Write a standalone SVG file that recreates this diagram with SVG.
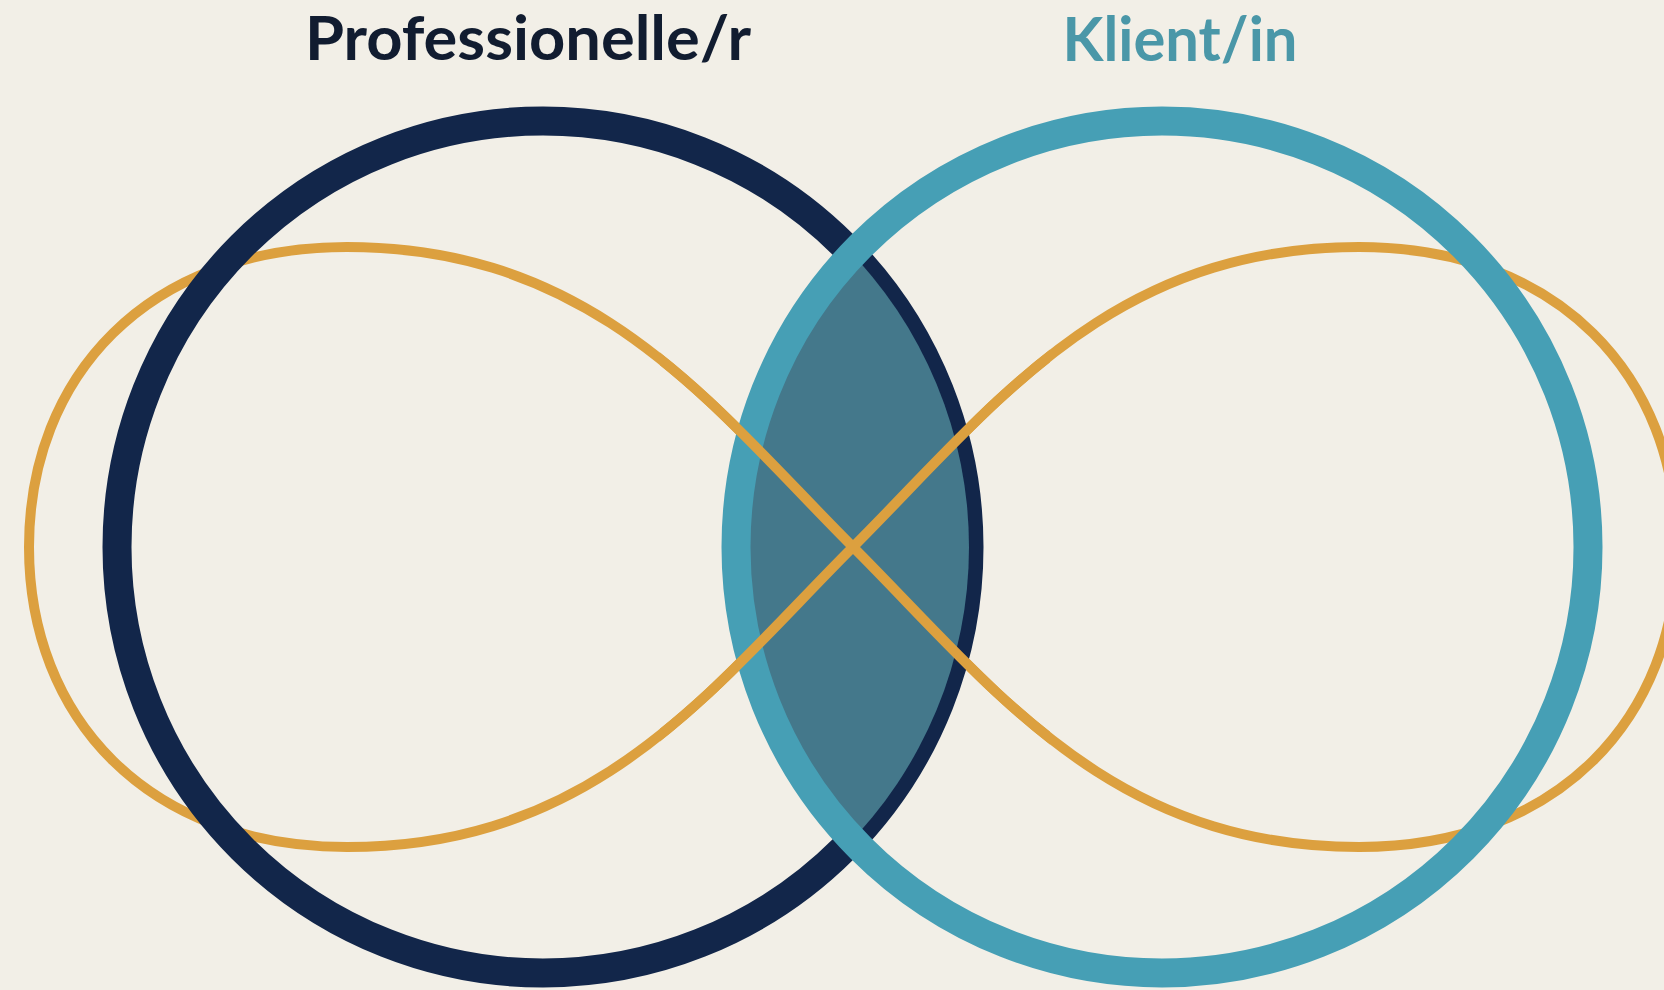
<svg xmlns="http://www.w3.org/2000/svg" width="1664" height="990" viewBox="0 0 1664 990">
  <style>
    .label { font-family: Lato, "Open Sans", "Liberation Sans", sans-serif; font-weight: bold; font-size: 62px; text-anchor: middle; }
    .ring { fill: none; stroke-width: 29; }
    .loop { fill: none; stroke: #dca03f; stroke-width: 10; stroke-linejoin: round; }
  </style>
  <defs>
    <clipPath id="clipRight"><circle cx="1162" cy="547" r="426"/></clipPath>
    <clipPath id="clipCenter"><rect x="660" y="330" width="390" height="440"/></clipPath>
    <path id="infinity" d="M853,547 C713,407 597,247 347,247 C147,247 29,377 29,547 C29,717 147,847 347,847 C597,847 713,687 853,547 C993,407 1109,247 1359,247 C1559,247 1677,377 1677,547 C1677,717 1559,847 1359,847 C1109,847 993,687 853,547 Z"/>
  </defs>
  <rect width="1664" height="990" fill="#f2efe7"/>

  <g id="connectors">
    <use href="#infinity" class="loop"/>
  </g>

  <g id="node-professional">
    <circle cx="543" cy="547" r="426" class="ring" stroke="#12264a"/>
  </g>
  <g id="node-overlap">
    <circle cx="543" cy="547" r="426" fill="#44788b" clip-path="url(#clipRight)"/>
  </g>
  <g id="node-client">
    <circle cx="1162" cy="547" r="426" class="ring" stroke="#469fb5"/>
  </g>

  <g id="connectors-center" clip-path="url(#clipCenter)">
    <use href="#infinity" class="loop"/>
  </g>

  <g id="label-professional">
    <text x="528" y="60" class="label" fill="#111c30" textLength="446" lengthAdjust="spacingAndGlyphs">Professionelle/r</text>
  </g>
  <g id="label-client">
    <text x="1180" y="61" class="label" fill="#4a97a8" textLength="235" lengthAdjust="spacingAndGlyphs">Klient/in</text>
  </g>
</svg>
